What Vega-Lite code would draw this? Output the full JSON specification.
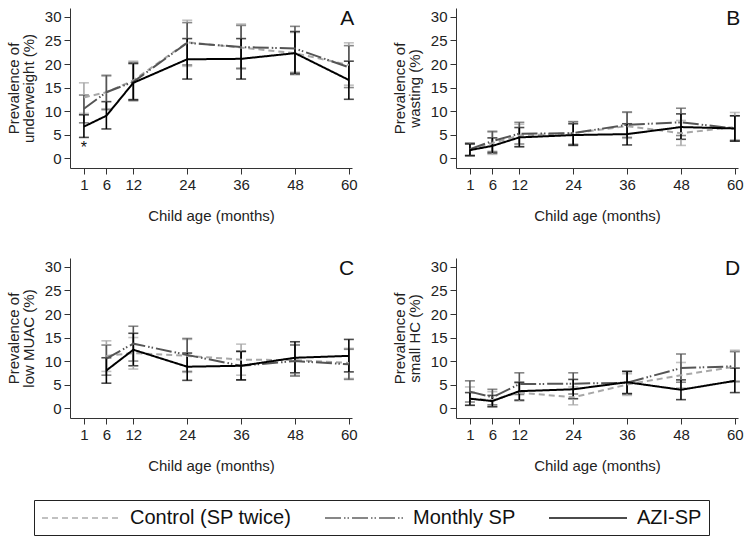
{
  "$schema": "https://vega.github.io/schema/vega-lite/v6.json",
  "padding": {"left": 6, "top": 7, "right": 5, "bottom": 2},
  "datasets": {
    "d": [
      {"p":"A","s":"Control (SP twice)","a":1,"e":12.9,"lo":9.5,"hi":16.0},
      {"p":"A","s":"Control (SP twice)","a":6,"e":14.0,"lo":10.5,"hi":17.4},
      {"p":"A","s":"Control (SP twice)","a":12,"e":16.5,"lo":12.5,"hi":20.6},
      {"p":"A","s":"Control (SP twice)","a":24,"e":24.6,"lo":19.5,"hi":29.3},
      {"p":"A","s":"Control (SP twice)","a":36,"e":23.5,"lo":18.9,"hi":28.5},
      {"p":"A","s":"Control (SP twice)","a":48,"e":22.3,"lo":17.7,"hi":26.7},
      {"p":"A","s":"Control (SP twice)","a":60,"e":19.8,"lo":15.5,"hi":24.5},
      {"p":"A","s":"Monthly SP","a":1,"e":10.5,"lo":7.5,"hi":13.4},
      {"p":"A","s":"Monthly SP","a":6,"e":14.0,"lo":10.3,"hi":17.6},
      {"p":"A","s":"Monthly SP","a":12,"e":16.2,"lo":12.2,"hi":20.3},
      {"p":"A","s":"Monthly SP","a":24,"e":24.5,"lo":19.8,"hi":28.8},
      {"p":"A","s":"Monthly SP","a":36,"e":23.6,"lo":19.1,"hi":28.2},
      {"p":"A","s":"Monthly SP","a":48,"e":23.3,"lo":18.2,"hi":28.0},
      {"p":"A","s":"Monthly SP","a":60,"e":19.3,"lo":15.0,"hi":23.9},
      {"p":"A","s":"AZI-SP","a":1,"e":6.7,"lo":4.4,"hi":9.2},
      {"p":"A","s":"AZI-SP","a":6,"e":9.0,"lo":6.2,"hi":12.0},
      {"p":"A","s":"AZI-SP","a":12,"e":16.0,"lo":12.4,"hi":20.1},
      {"p":"A","s":"AZI-SP","a":24,"e":21.0,"lo":16.8,"hi":25.4},
      {"p":"A","s":"AZI-SP","a":36,"e":21.1,"lo":16.8,"hi":25.4},
      {"p":"A","s":"AZI-SP","a":48,"e":22.3,"lo":17.9,"hi":26.9},
      {"p":"A","s":"AZI-SP","a":60,"e":16.6,"lo":12.5,"hi":20.6},

      {"p":"B","s":"Control (SP twice)","a":1,"e":1.8,"lo":0.5,"hi":3.1},
      {"p":"B","s":"Control (SP twice)","a":6,"e":3.2,"lo":0.8,"hi":5.5},
      {"p":"B","s":"Control (SP twice)","a":12,"e":4.8,"lo":2.5,"hi":7.2},
      {"p":"B","s":"Control (SP twice)","a":24,"e":5.3,"lo":2.9,"hi":7.8},
      {"p":"B","s":"Control (SP twice)","a":36,"e":6.8,"lo":4.2,"hi":9.7},
      {"p":"B","s":"Control (SP twice)","a":48,"e":5.3,"lo":2.7,"hi":8.0},
      {"p":"B","s":"Control (SP twice)","a":60,"e":6.6,"lo":3.9,"hi":9.7},
      {"p":"B","s":"Monthly SP","a":1,"e":1.9,"lo":0.6,"hi":3.2},
      {"p":"B","s":"Monthly SP","a":6,"e":3.6,"lo":1.4,"hi":5.7},
      {"p":"B","s":"Monthly SP","a":12,"e":5.2,"lo":3.0,"hi":7.6},
      {"p":"B","s":"Monthly SP","a":24,"e":5.3,"lo":2.9,"hi":7.7},
      {"p":"B","s":"Monthly SP","a":36,"e":7.1,"lo":4.4,"hi":9.8},
      {"p":"B","s":"Monthly SP","a":48,"e":7.6,"lo":4.8,"hi":10.6},
      {"p":"B","s":"Monthly SP","a":60,"e":6.3,"lo":3.7,"hi":9.0},
      {"p":"B","s":"AZI-SP","a":1,"e":1.7,"lo":0.5,"hi":3.0},
      {"p":"B","s":"AZI-SP","a":6,"e":2.6,"lo":1.1,"hi":4.3},
      {"p":"B","s":"AZI-SP","a":12,"e":4.4,"lo":2.4,"hi":6.5},
      {"p":"B","s":"AZI-SP","a":24,"e":4.9,"lo":2.7,"hi":7.3},
      {"p":"B","s":"AZI-SP","a":36,"e":5.1,"lo":2.8,"hi":7.3},
      {"p":"B","s":"AZI-SP","a":48,"e":6.6,"lo":4.0,"hi":9.4},
      {"p":"B","s":"AZI-SP","a":60,"e":6.3,"lo":3.6,"hi":9.0},

      {"p":"C","s":"Control (SP twice)","a":6,"e":11.1,"lo":7.8,"hi":14.3},
      {"p":"C","s":"Control (SP twice)","a":12,"e":11.7,"lo":8.3,"hi":15.0},
      {"p":"C","s":"Control (SP twice)","a":24,"e":11.1,"lo":7.6,"hi":14.6},
      {"p":"C","s":"Control (SP twice)","a":36,"e":10.3,"lo":7.0,"hi":13.6},
      {"p":"C","s":"Control (SP twice)","a":48,"e":10.2,"lo":7.0,"hi":13.5},
      {"p":"C","s":"Control (SP twice)","a":60,"e":9.6,"lo":6.3,"hi":12.7},
      {"p":"C","s":"Monthly SP","a":6,"e":10.5,"lo":7.0,"hi":13.4},
      {"p":"C","s":"Monthly SP","a":12,"e":13.7,"lo":10.0,"hi":17.4},
      {"p":"C","s":"Monthly SP","a":24,"e":11.3,"lo":7.8,"hi":14.8},
      {"p":"C","s":"Monthly SP","a":36,"e":9.0,"lo":6.0,"hi":12.0},
      {"p":"C","s":"Monthly SP","a":48,"e":10.0,"lo":6.8,"hi":13.4},
      {"p":"C","s":"Monthly SP","a":60,"e":9.3,"lo":6.1,"hi":12.5},
      {"p":"C","s":"AZI-SP","a":6,"e":8.0,"lo":5.3,"hi":10.7},
      {"p":"C","s":"AZI-SP","a":12,"e":12.4,"lo":9.0,"hi":15.9},
      {"p":"C","s":"AZI-SP","a":24,"e":8.8,"lo":5.9,"hi":11.7},
      {"p":"C","s":"AZI-SP","a":36,"e":9.0,"lo":6.0,"hi":12.1},
      {"p":"C","s":"AZI-SP","a":48,"e":10.7,"lo":7.5,"hi":14.1},
      {"p":"C","s":"AZI-SP","a":60,"e":11.1,"lo":7.7,"hi":14.6},

      {"p":"D","s":"Control (SP twice)","a":1,"e":2.0,"lo":0.6,"hi":4.5},
      {"p":"D","s":"Control (SP twice)","a":6,"e":1.7,"lo":0.3,"hi":3.5},
      {"p":"D","s":"Control (SP twice)","a":12,"e":3.3,"lo":1.5,"hi":5.3},
      {"p":"D","s":"Control (SP twice)","a":24,"e":2.3,"lo":0.7,"hi":4.5},
      {"p":"D","s":"Control (SP twice)","a":36,"e":5.0,"lo":2.7,"hi":7.3},
      {"p":"D","s":"Control (SP twice)","a":48,"e":7.0,"lo":4.3,"hi":9.7},
      {"p":"D","s":"Control (SP twice)","a":60,"e":8.8,"lo":5.5,"hi":12.3},
      {"p":"D","s":"Monthly SP","a":1,"e":3.5,"lo":1.3,"hi":5.8},
      {"p":"D","s":"Monthly SP","a":6,"e":2.3,"lo":0.7,"hi":4.0},
      {"p":"D","s":"Monthly SP","a":12,"e":5.1,"lo":2.9,"hi":7.5},
      {"p":"D","s":"Monthly SP","a":24,"e":5.2,"lo":3.0,"hi":7.5},
      {"p":"D","s":"Monthly SP","a":36,"e":5.4,"lo":3.0,"hi":7.8},
      {"p":"D","s":"Monthly SP","a":48,"e":8.5,"lo":5.5,"hi":11.5},
      {"p":"D","s":"Monthly SP","a":60,"e":8.9,"lo":5.7,"hi":12.0},
      {"p":"D","s":"AZI-SP","a":1,"e":2.0,"lo":0.6,"hi":3.3},
      {"p":"D","s":"AZI-SP","a":6,"e":1.5,"lo":0.3,"hi":2.7},
      {"p":"D","s":"AZI-SP","a":12,"e":3.6,"lo":1.7,"hi":5.5},
      {"p":"D","s":"AZI-SP","a":24,"e":4.0,"lo":2.0,"hi":6.1},
      {"p":"D","s":"AZI-SP","a":36,"e":5.5,"lo":3.1,"hi":7.8},
      {"p":"D","s":"AZI-SP","a":48,"e":3.9,"lo":1.8,"hi":6.0},
      {"p":"D","s":"AZI-SP","a":60,"e":5.8,"lo":3.3,"hi":8.5}
    ]
  },
  "bounds": "flush",
  "columns": 2,
  "spacing": {"row": 90, "column": 104},
  "concat": [
    {
      "width": 282, "height": 160,
      "data": {"name": "d"},
      "encoding": {
        "x": {"field": "a", "type": "quantitative", "scale": {"domain": [-2.1, 60.7], "nice": false, "zero": false}, "axis": {"values": [1, 6, 12, 24, 36, 48, 60], "title": "Child age (months)"}},
        "y": {"type": "quantitative", "scale": {"domain": [-2.1, 31.9], "nice": false, "zero": false}, "axis": {"values": [0, 5, 10, 15, 20, 25, 30], "title": ["Prevalence of", "underweight (%)"]}}
      },
      "layer": [
        {"transform": [{"filter": "datum.p == 'A'"}],
         "mark": {"type": "errorbar", "ticks": true, "size": 10, "thickness": 1.6},
         "encoding": {"y": {"field": "lo", "type": "quantitative"}, "y2": {"field": "hi"}, "color": {"field": "s", "type": "nominal", "title": null}}},
        {"transform": [{"filter": "datum.p == 'A'"}],
         "mark": {"type": "line", "strokeWidth": 2},
         "encoding": {"y": {"field": "e", "type": "quantitative"},
           "color": {"field": "s", "type": "nominal", "title": null},
           "strokeDash": {"field": "s", "type": "nominal", "title": null}}},
        {"transform": [{"filter": "datum.p == 'A' && datum.a == 60 && datum.s == 'AZI-SP'"}],
         "mark": {"type": "text", "text": "A", "fontSize": 21, "fontWeight": "normal", "align": "right", "baseline": "middle", "fill": "#111"},
         "encoding": {"x": {"datum": 61.2}, "y": {"datum": 29.6}}},
        {"transform": [{"filter": "datum.p == 'A' && datum.a == 60 && datum.s == 'AZI-SP'"}],
         "mark": {"type": "text", "text": "*", "fontSize": 16, "fontWeight": "normal", "align": "center", "baseline": "middle", "fill": "#111"},
         "encoding": {"x": {"datum": 1}, "y": {"datum": 2.2}}}
      ]
    },
    {
      "width": 282, "height": 160,
      "data": {"name": "d"},
      "encoding": {
        "x": {"field": "a", "type": "quantitative", "scale": {"domain": [-2.1, 60.7], "nice": false, "zero": false}, "axis": {"values": [1, 6, 12, 24, 36, 48, 60], "title": "Child age (months)"}},
        "y": {"type": "quantitative", "scale": {"domain": [-2.1, 31.9], "nice": false, "zero": false}, "axis": {"values": [0, 5, 10, 15, 20, 25, 30], "title": ["Prevalence of", "wasting (%)"]}}
      },
      "layer": [
        {"transform": [{"filter": "datum.p == 'B'"}],
         "mark": {"type": "errorbar", "ticks": true, "size": 10, "thickness": 1.6},
         "encoding": {"y": {"field": "lo", "type": "quantitative"}, "y2": {"field": "hi"}, "color": {"field": "s", "type": "nominal", "title": null}}},
        {"transform": [{"filter": "datum.p == 'B'"}],
         "mark": {"type": "line", "strokeWidth": 2},
         "encoding": {"y": {"field": "e", "type": "quantitative"},
           "color": {"field": "s", "type": "nominal", "title": null},
           "strokeDash": {"field": "s", "type": "nominal", "title": null}}},
        {"transform": [{"filter": "datum.p == 'B' && datum.a == 60 && datum.s == 'AZI-SP'"}],
         "mark": {"type": "text", "text": "B", "fontSize": 21, "fontWeight": "normal", "align": "right", "baseline": "middle", "fill": "#111"},
         "encoding": {"x": {"datum": 61.2}, "y": {"datum": 29.6}}}
      ]
    },
    {
      "width": 282, "height": 160,
      "data": {"name": "d"},
      "encoding": {
        "x": {"field": "a", "type": "quantitative", "scale": {"domain": [-2.1, 60.7], "nice": false, "zero": false}, "axis": {"values": [1, 6, 12, 24, 36, 48, 60], "title": "Child age (months)"}},
        "y": {"type": "quantitative", "scale": {"domain": [-2.1, 31.9], "nice": false, "zero": false}, "axis": {"values": [0, 5, 10, 15, 20, 25, 30], "title": ["Prevalence of", "low MUAC (%)"]}}
      },
      "layer": [
        {"transform": [{"filter": "datum.p == 'C'"}],
         "mark": {"type": "errorbar", "ticks": true, "size": 10, "thickness": 1.6},
         "encoding": {"y": {"field": "lo", "type": "quantitative"}, "y2": {"field": "hi"}, "color": {"field": "s", "type": "nominal", "title": null}}},
        {"transform": [{"filter": "datum.p == 'C'"}],
         "mark": {"type": "line", "strokeWidth": 2},
         "encoding": {"y": {"field": "e", "type": "quantitative"},
           "color": {"field": "s", "type": "nominal", "title": null},
           "strokeDash": {"field": "s", "type": "nominal", "title": null}}},
        {"transform": [{"filter": "datum.p == 'C' && datum.a == 60 && datum.s == 'AZI-SP'"}],
         "mark": {"type": "text", "text": "C", "fontSize": 21, "fontWeight": "normal", "align": "right", "baseline": "middle", "fill": "#111"},
         "encoding": {"x": {"datum": 61.2}, "y": {"datum": 29.6}}}
      ]
    },
    {
      "width": 282, "height": 160,
      "data": {"name": "d"},
      "encoding": {
        "x": {"field": "a", "type": "quantitative", "scale": {"domain": [-2.1, 60.7], "nice": false, "zero": false}, "axis": {"values": [1, 6, 12, 24, 36, 48, 60], "title": "Child age (months)"}},
        "y": {"type": "quantitative", "scale": {"domain": [-2.1, 31.9], "nice": false, "zero": false}, "axis": {"values": [0, 5, 10, 15, 20, 25, 30], "title": ["Prevalence of", "small HC (%)"]}}
      },
      "layer": [
        {"transform": [{"filter": "datum.p == 'D'"}],
         "mark": {"type": "errorbar", "ticks": true, "size": 10, "thickness": 1.6},
         "encoding": {"y": {"field": "lo", "type": "quantitative"}, "y2": {"field": "hi"}, "color": {"field": "s", "type": "nominal", "title": null, "scale": {"domain": ["Control (SP twice)", "Monthly SP", "AZI-SP"], "range": ["#a8a8a8", "#555555", "#000000"]}}}},
        {"transform": [{"filter": "datum.p == 'D'"}],
         "mark": {"type": "line", "strokeWidth": 2},
         "encoding": {"y": {"field": "e", "type": "quantitative"},
           "color": {"field": "s", "type": "nominal", "title": null, "scale": {"domain": ["Control (SP twice)", "Monthly SP", "AZI-SP"], "range": ["#a8a8a8", "#555555", "#000000"]}},
           "strokeDash": {"field": "s", "type": "nominal", "title": null, "scale": {"domain": ["Control (SP twice)", "Monthly SP", "AZI-SP"], "range": [[6, 4], [16, 3, 1.5, 2, 1.5, 3], [1, 0]]}}}},
        {"transform": [{"filter": "datum.p == 'D' && datum.a == 60 && datum.s == 'AZI-SP'"}],
         "mark": {"type": "text", "text": "D", "fontSize": 21, "fontWeight": "normal", "align": "right", "baseline": "middle", "fill": "#111"},
         "encoding": {"x": {"datum": 61.2}, "y": {"datum": 29.6}}}
      ]
    }
  ],
  "resolve": {"scale": {"color": "shared", "strokeDash": "shared"}, "legend": {"color": "shared", "strokeDash": "shared"}},
  "config": {
    "font": "Liberation Sans",
    "view": {"stroke": null},
    "axis": {
      "grid": false, "domainColor": "#333", "tickColor": "#333", "labelColor": "#222", "titleColor": "#222",
      "labelFontSize": 15, "titleFontSize": 15, "titleFontWeight": "normal", "tickSize": 6, "labelPadding": 3
    },
    "axisX": {"labelAngle": 0, "titlePadding": 16},
    "axisY": {"titlePadding": 8, "titleLineHeight": 15},
    "legend": {
      "orient": "none", "legendX": -36, "legendY": 492,
      "direction": "horizontal", "symbolType": "M-1,0H6.8", "symbolSize": 400, "symbolStrokeWidth": 2,
      "labelFontSize": 20, "labelColor": "#111", "labelOffset": 67, "columnPadding": 29, "padding": 7,
      "strokeColor": "#222", "labelLimit": 300, "columns": 3
    }
  }
}
